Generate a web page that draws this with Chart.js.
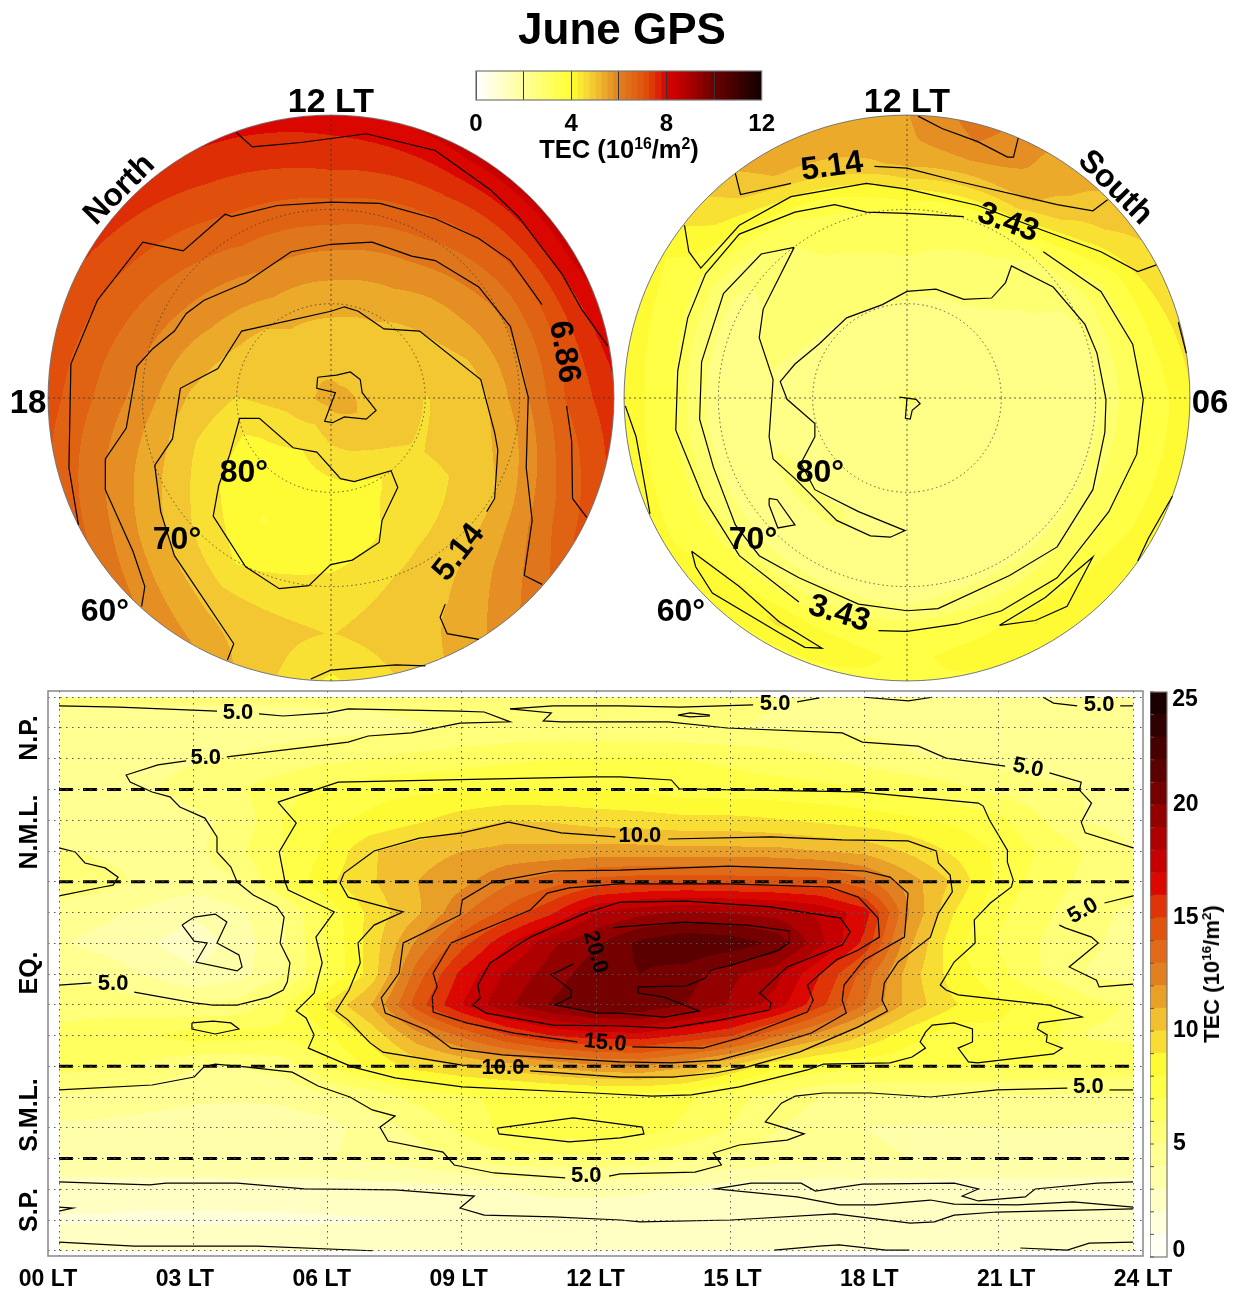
<!DOCTYPE html>
<html>
<head>
<meta charset="utf-8">
<title>June GPS</title>
<script src="https://cdn.jsdelivr.net/npm/chart.js@4"></script>
<style>
body { margin: 0; background: #fff; }
#page { position: relative; width: 1243px; height: 1291px; overflow: hidden; font-family: "Liberation Sans", Arial, sans-serif; font-weight: bold; color: #000; }
#page canvas { position: absolute; }
.t { position: absolute; white-space: nowrap; transform: translate(-50%, -50%); line-height: 1; }
.t sup { font-size: 62%; line-height: 0; }
</style>
</head>
<body>
<div id="page">
  <canvas id="north" width="570" height="570" style="left:46px;top:113px"></canvas>
  <canvas id="south" width="570" height="570" style="left:622px;top:113px"></canvas>
  <canvas id="topBar" width="329" height="75" style="left:456px;top:65px"></canvas>
  <canvas id="map" width="1180" height="606" style="left:8px;top:685px"></canvas>
  <canvas id="sideBar" width="64" height="621" style="left:1150px;top:670px"></canvas>
  <div class="t" style="left:622px;top:29px;font-size:44px">June GPS</div>
  <div class="t" style="left:331px;top:100px;font-size:34px">12 LT</div>
  <div class="t" style="left:907px;top:100px;font-size:34px">12 LT</div>
  <div class="t" style="left:28px;top:401px;font-size:33px">18</div>
  <div class="t" style="left:1210px;top:401px;font-size:33px">06</div>
  <div class="t" style="left:619px;top:150px;font-size:25.5px">TEC (10<sup>16</sup>/m<sup>2</sup>)</div>
  <div class="t" style="left:1212px;top:974px;font-size:22px;transform:translate(-50%,-50%) rotate(-90deg)">TEC (10<sup>16</sup>/m<sup>2</sup>)</div>
  <div class="t" style="left:28px;top:738px;font-size:25px;transform:translate(-50%,-50%) rotate(-90deg)">N.P.</div>
  <div class="t" style="left:28px;top:832px;font-size:25px;transform:translate(-50%,-50%) rotate(-90deg)">N.M.L.</div>
  <div class="t" style="left:28px;top:973px;font-size:25px;transform:translate(-50%,-50%) rotate(-90deg)">EQ.</div>
  <div class="t" style="left:28px;top:1115px;font-size:25px;transform:translate(-50%,-50%) rotate(-90deg)">S.M.L.</div>
  <div class="t" style="left:28px;top:1210px;font-size:25px;transform:translate(-50%,-50%) rotate(-90deg)">S.P.</div>
  <div class="t" style="left:1185px;top:698px;font-size:23px">25</div>
  <div class="t" style="left:1179px;top:1249px;font-size:23px">0</div>
</div>
<script>
// ---- colour ramp shared by all panels
const rampPos = [0, 0.167, 0.333, 0.40, 0.5, 0.6, 0.667, 0.75, 0.833, 1];
const rampRgb = [[255,255,255],[255,255,154],[255,255,51],[245,207,51],[224,128,32],[224,74,10],[217,0,0],[168,0,0],[106,0,0],[16,0,0]];

// ---- bottom panel: TEC on local time x latitude
const mapLT = [0,1,2,3,4,5,6,7,8,9,10,11,12,13,14,15,16,17,18,19,20,21,22,23,24];
const mapLat = [90,80,70,60,50,40,30,20,10,0,-10,-20,-30,-40,-50,-60,-70,-80,-90];
const mapTec = [
[5.2,5.2,5.2,5.2,5.2,5.2,5.2,5.2,5.2,5.2,5.2,5.2,5.2,5.2,5.2,5.2,5,4.95,4.9,4.95,5,5,4.95,5,5],
[4.6,4.5,4.5,4.5,4.5,4.55,4.65,4.75,4.95,5.1,5.2,5.2,5.2,5.15,5.05,5,4.95,4.9,4.8,4.7,4.6,4.5,4.5,4.6,4.7],
[4.7,4.6,4.7,4.9,5.1,5.4,5.7,6,6.3,6.5,6.8,7,7.1,7.1,7,6.8,6.5,6.1,5.6,5.1,4.85,4.65,4.4,4.5,4.6],
[4.5,4.6,4.9,5.4,5.9,6.6,7.4,7.7,7.8,7.9,8,8,8,7.8,7.5,7.45,7.4,7.3,7.1,6.8,6.3,5.7,5.3,4.95,4.7],
[4.2,4.2,4.3,4.7,5.3,7,7.8,8.2,8.8,9.5,10,9.9,9.6,9.5,9.3,9.3,9.1,8.8,8.5,8.2,7.8,7.3,6,4.9,4.6],
[5.1,4.8,4.6,4.7,5.8,7,8.2,9.9,10.6,11,11.3,11.3,11.4,11.4,11.3,11.3,11.3,11,10.7,9.8,8.8,7.8,6.8,5.9,5],
[5.8,5.4,4.7,4.5,4.9,7,8.8,9.9,11,11.7,12.8,13.6,14.4,14.7,14.8,14.7,14.6,14.5,13.3,11.5,9.8,7.7,6.5,5.7,5.4],
[4.4,4.2,3.8,3.2,3.8,4.9,7.3,9.4,10.8,12.8,14.3,15.8,18,18.7,19.1,18.9,18.6,17.8,16.5,12,9,7.2,6.2,5.3,4.8],
[4.1,3.7,3.1,2.4,3.4,4.9,7.1,9.5,12.2,14.6,16.8,18.8,19.9,21.3,22,21.7,20.8,18.3,15.7,11.2,8.3,6.9,5.9,5.2,4.6],
[4.7,4.5,3.9,3.2,3.6,4.9,7,9.5,13.5,16.3,18.2,19.5,20.6,21,20.5,19.2,18.4,16,13.6,10.5,8.5,7.3,5.9,4.9,4.6],
[5.7,5.6,5.3,5,5.3,6.8,9.2,11.1,14.5,17,18.8,20.1,21,21,20,18.9,17.6,15.3,13,10.6,9.1,8.2,7.6,6.3,5.9],
[6.2,6.5,6.9,7.5,7.4,7.2,7.8,9.4,11.6,13.2,14.9,16,16.5,16.6,15.9,15.1,13.2,11.6,9.9,8.4,7.3,7.8,7.6,5.9,5.8],
[6.4,6.1,5.8,5.1,5,5.4,7,8.2,9.4,10,10.5,11.2,11.8,12,11.2,9.9,8.3,7.5,7.3,7.2,7.1,7,6.9,6.7,6.6],
[4.8,4.7,4.4,4.2,4.1,4.2,4.7,5.4,6.3,6.9,7.2,7.3,7.4,7.4,7.2,6.3,5.7,5,4.9,4.85,4.9,4.9,4.85,4.8,4.8],
[3.8,3.7,3.6,3.4,3.4,3.5,3.6,4.6,5.2,6.2,7.4,7.6,7.7,7.5,6.8,6,5.1,4.4,4,3.9,3.9,4,4,3.9,3.8],
[3.9,3.9,4,4,4,4,4,4.2,4.6,5.2,5.6,5.7,5.8,5.6,5.2,4.8,4.4,4.2,4.1,4,4,3.9,3.9,3.9,3.9],
[2.4,2.4,2.35,2.35,2.4,2.45,2.5,2.55,2.6,2.7,3,3.2,3.2,3.1,2.9,2.45,2.4,2.4,2.4,2.4,2.4,2.55,2.5,2.4,2.4],
[1.9,1.9,1.85,1.85,1.85,1.85,1.9,1.95,2,2.2,2.35,2.45,2.5,2.5,2.5,2.5,2.4,2.35,2.45,2.52,2.35,2.3,2.3,2.3,2.3],
[2.7,2.7,2.7,2.7,2.7,2.7,2.65,2.5,2.45,2.45,2.45,2.45,2.45,2.45,2.45,2.45,2.45,2.55,2.55,2.5,2.45,2.45,2.55,2.7,2.7]
];
const regionBounds = [60, 30, -30, -60];
const ltTicks = ['00 LT','03 LT','06 LT','09 LT','12 LT','15 LT','18 LT','21 LT','24 LT'];

// contour lines as [local time, latitude], split where a label sits
const map25 = [
[[2.75,15.9],[3.02,18.5],[3.49,19.5],[3.75,16.9],[3.53,10.1],[4.02,6.2],[4.09,2.3],[3.98,1],[3.06,3.9],[3.31,10.1],[3.02,10.7],[2.75,15.9]],
[[0,-67.6],[0.8,-68],[2.03,-68.6],[2.39,-68],[3.98,-68],[5.48,-69.9],[7.51,-70.2],[9.28,-72.2],[8.96,-76.1],[9.5,-78.4],[11.04,-79],[12.54,-80],[12.99,-80.6],[15.02,-80],[17.34,-78],[19.02,-81],[19.56,-80.6],[20,-78.4],[20.96,-77.4],[24,-76.4]],
[[0,-75.8],[0.31,-76.1],[0,-77.1]],
[[0,-87.2],[1.68,-88.5],[4.43,-88.5],[7,-90]],
[[15.98,-89.8],[16.99,-88.5],[17.43,-88.1],[18.48,-89.8],[19,-89.8]],
[[21.48,-89.1],[22.53,-89.8],[23.02,-87.5],[24,-87.2]],
[[24,-67.6],[23.2,-68],[21.81,-69.9],[21.59,-72.5],[20.54,-73.8],[20.18,-72.2],[20.54,-69.9],[20,-68],[17.95,-68.3],[16.9,-70.6],[16.58,-68],[15.47,-68],[14.66,-69.9],[16.49,-72.5],[17.43,-75.1],[18.22,-75.1],[19.47,-73.5],[20,-74.8],[21.41,-75.1],[22.66,-74.1],[24,-75.8]]
];
const map5 = [
[[0,87.2],[1.34,86.8],[3.53,85.5]],
[[4.47,84.6],[5.01,83.9],[6.01,84.9],[6.46,86.2],[8.92,85.5],[9.5,85.2],[10.08,82],[8.96,81.6],[7.87,78.4],[6.91,77.4],[6.46,75.4],[5.74,74.1],[3.75,70.6]],
[[2.84,69.3],[2.21,68],[1.5,64.7],[1.59,62.4],[2.08,59.2],[2.48,57.6],[2.7,54.3],[3.26,50.7],[3.53,44.6],[3.53,39.7],[3.84,34.8],[3.98,29.9],[4.34,25.7],[4.87,21.8],[5.03,18.5],[4.94,10.1],[5.16,3.6],[5.1,-2.6],[5.01,-5.2],[4.69,-7.5],[3.98,-10.1],[3.44,-10.1],[3.02,-9.4],[1.68,-5.9]],
[[0.72,-2.9],[0,-3.6]],
[[10.08,86.2],[11.04,87.2],[12.54,87.2],[13.88,86.8],[15.51,87.5]],
[[10.08,86.2],[11,84.9],[10.82,82.3],[11.22,82],[12.54,82],[13.61,82],[14.93,80],[17.5,78.4],[17.95,75.4],[19.2,74.1],[19.82,70.2],[21.14,67.6]],
[[22.13,65.4],[22.84,62.4],[22.8,59.8],[23.07,55.6],[22.84,49.4],[22.93,45.9],[24,41]],
[[16.49,88.5],[16.99,89.8]],
[[17.99,90],[18.98,88.8],[19.51,90]],
[[21.99,90],[22.22,88.1],[22.75,87.2]],
[[23.71,87.2],[24,87.2]],
[[13.83,84.2],[14.1,84.9],[14.53,84.2],[14.53,83.9],[14.1,83.6],[13.83,84.2]],
[[0,41],[0.36,39.7],[0.58,36.1],[1.03,34.5],[1.32,31.5],[1.21,28.9],[0.98,28.3],[0,25.4]],
[[23.36,23.1],[24,25.4]],
[[22.35,15.9],[22.48,15],[23.07,12],[23.22,10.1],[22.57,2.3],[23.18,-2],[23.24,-4.2],[24,-3.3]],
[[0,-37.7],[2.08,-36.1],[3.02,-33.5],[3.24,-30.2],[3.49,-29.3],[4.16,-30.2],[5.21,-31.9],[5.79,-36.4],[6.5,-40],[7,-44.2],[7.51,-46.2],[7.17,-49.8],[7.35,-54.3],[8.58,-57.9],[8.83,-62.1],[9.72,-64.7],[11.31,-66.3]],
[[12.29,-65.7],[12.54,-65],[14.21,-64.4],[14.8,-62.1],[14.62,-58.2],[15.2,-55.6],[16.27,-54],[16.65,-52],[15.78,-48.1],[16.14,-42],[16.45,-39.7],[17.08,-38.7],[18.13,-38.7],[19.47,-40],[20.96,-37.7],[22.53,-37.1]],
[[23.47,-37.7],[24,-37.7]]
];
const map75 = [
[[4.89,55.9],[6.24,62.4],[11.93,64.1],[12.54,64.1],[13.68,63.1],[13.86,60.2],[17.86,59.2],[20.54,55.6],[20.65,54.6],[20.79,50.1],[21.19,40.3],[21.19,36.4],[21.32,30.6],[21.28,28.3],[20.81,23.1],[20.45,17.6],[20.47,10.1],[20,3.9],[19.69,-3.6],[19.82,-5.2],[20.09,-6.8],[22.13,-10.1],[22.86,-14],[21.9,-15.9],[21.86,-17.9],[22.08,-19.8],[22.06,-22.1],[22.42,-24.1],[22.22,-26],[20.52,-28.9],[20.32,-28.6],[20.09,-24.1],[20.41,-22.1],[20.41,-17.9],[20,-15.9],[19.51,-16.6],[19.36,-18.9],[19.24,-22.1],[19.36,-24.1],[19.06,-27],[18.57,-28.9],[17.08,-29.3],[16.72,-31.2],[15.2,-36.7],[14.13,-39.3],[13.25,-39.7],[11.93,-38.7],[9.01,-36.7],[7.51,-33.8],[6.55,-30.2],[5.57,-24.1],[5.7,-19.8],[5.52,-14.3],[5.3,-12],[5.7,-6.2],[5.88,3.6],[5.74,12],[6.15,20.2],[5.92,21.8],[5.12,27.3],[5.05,29.9],[4.92,39.7],[5.3,49.1],[4.89,55.9]],
[[2.97,-15.9],[2.97,-17.9],[3.49,-19.5],[4.02,-17.9],[3.84,-15.9],[3.44,-15.3],[2.97,-15.9]],
[[9.79,-50.1],[9.83,-52],[11.4,-54.6],[12.54,-53.3],[13.07,-52],[13.03,-49.8],[12.54,-48.8],[11.49,-46.8],[9.79,-50.1]]
];
const map10 = [
[[13.61,43.9],[15.91,44.6],[17.5,43.6],[18.97,43.3],[19.6,40],[19.65,36.1],[19.91,32.2],[19.96,26.7],[19.65,19.8],[19.47,12],[18.75,3.9],[18.44,-2.9],[18.39,-8.5],[18.51,-12],[17.86,-17.2],[16.54,-25.4],[15.38,-30.2],[14.66,-32.2],[13.7,-33.5],[12.54,-33.5],[10.53,-31.5]],
[[9.45,-29.9],[9.01,-29.6],[7.24,-25.4],[6.95,-22.4],[6.46,-15],[6.19,-12],[6.48,-5.2],[6.73,3.6],[6.68,10.1],[7.04,15.9],[7.69,20.2],[6.46,25],[6.28,29.6],[6.37,32.8],[7.04,40],[8.05,44.2],[9.01,45.9],[10.04,49.4],[11.22,45.9],[12.43,44.6]]
];
const map125 = [
[[12.54,33.8],[11.04,33.5],[9.68,29.9],[9.01,24.1],[8.96,19.2],[7.69,10.1],[7.6,0.3],[7.33,-5.2],[7.2,-7.8],[7.29,-12.7],[8.22,-18.2],[8.76,-24.1],[9.9,-26.3],[12.54,-28.6],[13.7,-28.9],[14.75,-28],[15.73,-24.1],[16.81,-19.2],[17.59,-12.7],[17.5,-8.5],[17.54,-3.6],[17.99,4.6],[18.89,12],[18.97,26.3],[18.57,31.5],[17.99,33.5],[14.97,35.1],[12.54,33.8]]
];
const map15 = [
[[12.81,-23.7],[14.39,-24.1],[15.2,-20.8],[16.72,-12.4],[16.85,-8.5],[16.72,-3.6],[17.37,4.6],[17.86,7.8],[18.33,12],[18.3,18.2],[17.86,25],[17.21,28.3],[14.97,29.3],[12.54,29.3],[11.4,28],[10.91,26.3],[10.53,20.8],[8.76,10.1],[8.36,0.3],[8.45,-4.2],[8.34,-7.5],[8.36,-12.4],[9.1,-15.9],[10.17,-19.2],[11.58,-22.1]]
];
const map175 = [
[[12.54,23.4],[11.76,19.8],[10.53,12],[9.63,3.6],[9.36,-3.6],[9.41,-7.8],[9.25,-10.1],[9.54,-12.7],[11.04,-16.6],[12.54,-16.9],[13.61,-17.6],[14.75,-15],[15.87,-11.7],[15.91,-9.4],[15.65,-6.2],[16.27,2.3],[17.5,9.4],[17.68,13.7],[17.46,18.2],[15.91,21.8],[14.01,23.7],[12.54,23.4]]
];
const map20 = [
[[12.38,15],[12.54,15.3],[13.97,16.9],[15.38,15.9],[16.32,14],[16.32,10.4],[16.09,7.8],[15.02,2.9],[14.57,1.3],[14.44,-1.3],[14.01,-3.9],[12.94,-4.2],[12.94,-6.2],[13.52,-7.5],[14.3,-12],[13.52,-14],[12.54,-12.7],[12.02,-12.7],[11.09,-10.1],[11.44,-7.5],[11.44,-5.2],[11,-0.3],[11.49,3.3]]
];
const mapLabels = [
['5.0',4.0,84.9,0],['5.0',3.28,70.2,0],['5.0',16.0,87.8,0],['5.0',23.24,87.5,0],['5.0',21.65,67.0,12],
['10.0',12.98,44.9,0],['5.0',22.88,20.5,-30],['20.0',11.98,7.15,75],['5.0',1.21,-3.25,0],
['15.0',12.2,-22.4,5],['10.0',9.92,-30.6,0],['5.0',23.0,-36.7,0],['5.0',11.78,-65.7,0]
];

// ---- polar panels: TEC per local time column, from the pole outwards
const northLT = [0,2,4,6,8,10,12,14,16,18,20,22];
const northColat = [0,5,10,15,20,25,30];
const northTec = [
[5.3,4.7,4.1,3.9,4.45,4.7,4.2],
[5.3,4.9,4.25,4.45,4.85,5.15,5.4],
[5.3,5.05,4.7,4.75,5.1,6.1,6.9],
[5.3,5,4.7,4.85,5.8,6.9,7.6],
[5.3,4.9,4.9,5.4,6.05,7.05,8.3],
[5.3,4.8,5.2,5.75,6.5,7.35,8.3],
[5.3,4.9,5.25,5.9,6.7,7.4,7.95],
[5.3,4.9,5.25,5.95,6.6,7.15,7.7],
[5.3,4.8,5,5.6,6.2,6.75,7.3],
[5.3,4.85,4.7,5.1,5.8,6.4,7.05],
[5.3,4.6,4.15,4.45,5.05,5.7,6.45],
[5.3,4.4,3.9,3.85,4.25,5,5.6]
];
const southLT = [0,2,4,6,8,10,11,12,14,16,18,20,22];
const southColat = [0,5,10,15,20,22.5,25,27.5,30];
const southTec = [
[2.6,2.45,2.45,2.45,2.45,2.6,3.55,3.75,3.8],
[2.6,2.45,2.45,2.45,2.45,2.9,3.55,4.3,3.9],
[2.6,2.45,2.45,2.45,2.5,3.1,3.5,3.85,4.3],
[2.6,2.45,2.45,2.45,2.5,3,3.45,3.8,4.25],
[2.6,2.45,2.45,2.5,2.6,3.15,3.6,4.29,4.6],
[2.6,2.45,2.5,2.75,3.3,4.45,5.35,5.5,5.55],
[2.6,2.45,2.5,2.85,3.4,4.45,5.3,5.95,6.2],
[2.6,2.45,2.55,3,3.5,4.45,5.3,5.5,5.55],
[2.6,2.45,2.55,2.85,3.15,3.5,4.45,5.2,5.5],
[2.6,2.45,2.5,2.7,2.45,2.7,3.35,3.7,3.9],
[2.6,2.45,2.45,2.5,2.4,2.75,3.5,3.8,4.3],
[2.6,2.45,2.5,2.6,2.4,2.75,3.4,3.7,3.95],
[2.6,2.45,2.5,2.6,2.4,2.7,3.6,4.35,3.8]
];
// polar contours as [x, y] in degrees from the pole, noon up
const northLines = [
[[-10.02,28.12],[-8.34,26.62],[-3.19,27.09],[3.73,28.02],[11.06,26.25],[16.93,22.05],[19.87,19.24],[24.48,13.17],[26.57,9.43],[29.38,5.46]],
[[-26.78,-13.45],[-27.79,-7.38],[-27.58,3.6],[-24.77,10.37],[-19.95,16.53],[-15.67,15.6],[-11.23,19.48],[-10.52,19.24],[-5.7,20.41],[0,20.78],[5.2,20.64],[11.06,19.01],[15.67,16.91],[19.03,14.57],[22.38,9.9]],
[[24.98,-0.84],[25.52,-4.58],[25.61,-10.65],[27.12,-12.66]],
[[-20.08,-22.09],[-19.74,-19.99],[-21,-16.25],[-23.93,-9.72],[-23.93,-6.45],[-21.71,-3.18],[-20.58,3.36],[-18.9,5.23],[-16.6,7.1],[-15.34,8.97],[-13.45,10.37],[-9.05,12.24],[-4.23,15.51],[0,16.3],[4.36,16.53],[8.55,15.04],[11.06,14.57],[15.67,11.77],[19.03,7.57],[20.91,0.09],[20.7,-7.38],[21.33,-12.98],[20.49,-18.82],[22.38,-19.76]],
[[-10.98,-27.79],[-10.31,-26.06],[-16.6,-16.72],[-18.06,-12.05],[-18.69,-7.15],[-16.81,-4.34],[-15.97,1.03],[-11.99,3.13],[-9.47,7.1],[0,9.2],[1.42,9.67],[2.89,9.2],[5.62,7.33],[9.39,7.1],[15.88,1.96],[17.35,-3.64],[17.69,-5.51],[17.35,-10.65],[16.51,-12.05]],
[[12.11,-21.86],[11.57,-23.26],[12.32,-24.99],[15.67,-25.6]],
[[-9.68,-2.15],[-7.59,-2.15],[-4.02,-5.28],[-1.51,-5.74],[1.01,-8.55],[2.47,-8.87],[6.37,-7.71],[7.08,-9.48],[5.41,-12.98],[5.11,-15.32],[2.26,-17.19],[-0.04,-17.66],[-2.35,-19.9],[-5.49,-20.22],[-9.05,-17.89],[-12.49,-12.52],[-11.9,-9.25],[-10.73,-5.98],[-9.68,-2.15]],
[[-1.42,2.2],[0.59,2.43],[2.05,2.76],[3.1,1.96],[3.31,0.56],[4.78,-1.31],[3.73,-2.24],[1.42,-2.01],[0.17,-2.62],[-0.67,-2.48],[0.46,0.56],[-1.51,1.03],[-1.42,2.2]],
[[-2.14,-29.8],[-0.04,-28.86],[6.87,-28.3],[10.02,-28.4]]
];
const southLines = [
[[1.18,29.89],[3.71,28.58],[7.5,27.18],[10.66,25.55],[11.29,25.55],[11.79,27.56]],
[[-18.2,23.82],[-17.65,21.58],[-12.3,22.75]],
[[-3.45,24.57],[0,24.38],[5.39,22.98],[15.92,20.5],[19.71,19.85],[21.27,21.02]],
[[-23.59,18.31],[-23.13,15.51],[-21.86,13.78],[-17.78,18.31],[-12.3,21.35],[-4.3,22.75],[0,22.14],[7.5,20.41],[14.24,17.84],[20.56,15.51],[24.47,13.4],[26.45,14.11]],
[[14.45,15.51],[20.56,11.3],[23.93,5.7],[25.06,-0.14],[24.35,-5.98],[21.4,-12.05],[15.92,-19.06],[10.03,-22.56],[5.39,-23.96],[0,-24.75],[-3.03,-24.66]],
[[-11.46,-21.63],[-17.78,-16.72],[-21.57,-10.65],[-24.52,-3.41],[-24.31,2.9],[-23.25,8.5],[-21.36,13.17],[-17.78,17.38],[-11.88,19.71],[-7.67,20.5],[-4.3,19.71],[0,19.57],[6.02,19.24]],
[[-11.96,15.97],[-15.46,15.27],[-19.46,11.07],[-21.78,3.83],[-21.99,-2.24],[-20.51,-7.38],[-18.2,-13.45],[-15.67,-16.72],[-11.46,-19.06],[-5.14,-21.86],[0,-22.56],[3.29,-22.33],[10.87,-18.82],[15.92,-15.79],[19.71,-9.72],[20.98,-3.64],[21.1,-0.14],[20.14,4.76],[18.87,7.8],[15.5,11.77],[11.08,14.01],[10.45,12.24],[8.97,10.6],[6.02,10.46],[3.07,11.54],[0,11.3],[-2.61,9.9],[-6.4,8.5],[-9.35,5.7],[-11.88,3.6],[-13.44,1.73],[-12.72,-0.14],[-9.77,-2.71],[-9.77,-4.11],[-11.25,-6.91],[-9.77,-9.72],[-5.14,-12.05],[-0.21,-14.06],[-1.77,-14.76],[-3.88,-14.62],[-7.46,-12.98],[-11.88,-8.55],[-14.2,-6.45],[-14.62,-4.11],[-14.2,1.96],[-15.67,6.4],[-15.25,9.43],[-11.96,15.97]],
[[-14.62,-10.65],[-13.77,-10.79],[-11.88,-13.45],[-13.69,-13.78],[-14.62,-11.35],[-14.62,-10.65]],
[[-22.83,-16.25],[-17.78,-19.99],[-13.56,-23.73],[-9.01,-26.53],[-10.83,-26.44],[-13.56,-24.9],[-20.64,-20.69],[-22.41,-17.89],[-22.83,-16.25]],
[[9.81,-24.1],[13.61,-23.59],[16.98,-22.09],[19.71,-16.86],[14.66,-21.16],[9.81,-24.1]],
[[-29.87,-0.84],[-28.73,-4.11],[-27.25,-12.28]],
[[28.77,8.03],[29.61,4.76]],
[[28.14,-10.42],[25.61,-14.85],[24.47,-17.28]],
[[-0.8,0.09],[0.97,-0.14],[1.39,-0.61],[0.55,-1.31],[0.34,-2.24],[-0.17,-2.15],[0,0]]
];
const northLabels = [
['6.86',24.7,4.88,80,32],['5.14',13.57,-16.4,-52,32],['80°',-9.23,-7.95,0,32],['70°',-16.33,-15.06,0,32],['60°',-23.97,-22.7,0,32],['North',-22.4,22.06,-45,32]
];
const southLabels = [
['5.14',-7.95,24.5,-8,32],['3.43',10.71,18.56,20,32],['3.43',-7.21,-22.9,17,32],['80°',-9.23,-7.95,0,32],['70°',-16.33,-15.06,0,32],['60°',-23.97,-22.7,0,32],['South',22.06,22.3,45,32]
];
const polarCircles = [10, 20];

const topBarMax = 12, sideBarMax = 25;
const polarBands = 28, mapBands = 25, topBarBands = 48;

Chart.defaults.font.family = '"Liberation Sans", Arial, sans-serif';
Chart.defaults.font.weight = 'bold';
Chart.defaults.color = '#000';

function rampColor(f) {
    let i = 0;
    while (i < rampPos.length - 2 && f > rampPos[i + 1]) i++;
    const t = (f - rampPos[i]) / (rampPos[i + 1] - rampPos[i]);
    const c = rampRgb[i].map((v, k) => Math.round(v + (rampRgb[i + 1][k] - v) * t));
    return `rgb(${c[0]},${c[1]},${c[2]})`;
}
function makeBands(n) {
    const out = [];
    for (let k = 0; k < n; k++) out.push(rampColor((k + 0.5) / n));
    return out;
}

function lineSet(points, extra) {
    return Object.assign({
        data: points.map(p => ({ x: p[0], y: p[1] })),
        showLine: true, borderColor: '#000', borderWidth: 1.2,
        pointRadius: 0, tension: 0, fill: false
    }, extra);
}

// fills the plot area band by band, one pixel row at a time
function paintField(chart, sample, maxV, colors) {
    const ctx = chart.ctx, a = chart.chartArea, xs = chart.scales.x, ys = chart.scales.y;
    const n = colors.length;
    for (let py = Math.floor(a.top); py < a.bottom; py++) {
        const lat = ys.getValueForPixel(py + 0.5);
        let start = 0, band = -1;
        for (let px = Math.floor(a.left); px <= a.right; px++) {
            const v = px < a.right ? sample(xs.getValueForPixel(px + 0.5), lat) : null;
            const k = v === null ? -1 : Math.max(0, Math.min(n - 1, Math.floor(v / maxV * n)));
            if (k !== band) {
                if (band >= 0) { ctx.fillStyle = colors[band]; ctx.fillRect(start, py, px - start, 1); }
                band = k; start = px;
            }
        }
    }
}

function sampleMap(lt, lat) {
    if (lt < 0 || lt > 24 || lat > 90 || lat < -90) return null;
    const fx = Math.min(lt, 23.999), fy = Math.min((90 - lat) / 10, 17.999);
    const i = Math.floor(fx), j = Math.floor(fy), u = fx - i, w = fy - j;
    return (mapTec[j][i] * (1 - u) + mapTec[j][i + 1] * u) * (1 - w)
        + (mapTec[j + 1][i] * (1 - u) + mapTec[j + 1][i + 1] * u) * w;
}

function samplePolar(field, cols, colats) {
    return function (x, y) {
        const r = Math.hypot(x, y);
        if (r > 30) return null;
        let lt = 12 - Math.atan2(x, y) * 12 / Math.PI;
        lt = (lt + 24) % 24;
        let i = cols.length - 1;
        while (i > 0 && cols[i] > lt) i--;
        const n = (i + 1) % cols.length;
        const u = (lt - cols[i]) / ((n === 0 ? 24 : cols[n]) - cols[i]);
        let j = 0;
        while (j < colats.length - 2 && r > colats[j + 1]) j++;
        const w = (r - colats[j]) / (colats[j + 1] - colats[j]);
        return (field[i][j] * (1 - u) + field[n][j] * u) * (1 - w)
            + (field[i][j + 1] * (1 - u) + field[n][j + 1] * u) * w;
    };
}

function drawLabels(chart, labels, size) {
    const ctx = chart.ctx;
    ctx.save();
    ctx.fillStyle = '#000';
    ctx.textAlign = 'center';
    ctx.textBaseline = 'middle';
    labels.forEach(l => {
        ctx.save();
        ctx.translate(chart.scales.x.getPixelForValue(l[1]), chart.scales.y.getPixelForValue(l[2]));
        ctx.rotate(l[3] * Math.PI / 180);
        ctx.font = `bold ${l[4] || size}px "Liberation Sans"`;
        ctx.fillText(l[0], 0, 0);
        ctx.restore();
    });
    ctx.restore();
}

function polarChart(id, field, cols, colats, lines, labels) {
    const crossStyle = { borderWidth: 0.8, borderColor: '#333', borderDash: [2, 3] };
    const datasets = lines.map(l => lineSet(l));
    datasets.push(lineSet([[-30, 0], [30, 0]], crossStyle));
    datasets.push(lineSet([[0, -30], [0, 30]], crossStyle));
    const sample = samplePolar(field, cols, colats);
    const colors = makeBands(polarBands);
    new Chart(document.getElementById(id), {
        type: 'scatter',
        data: { datasets: datasets },
        options: {
            responsive: false, animation: false, events: [],
            plugins: { legend: { display: false }, tooltip: { enabled: false } },
            scales: {
                x: { display: false, min: -30.22, max: 30.22 },
                y: { display: false, min: -30.22, max: 30.22 }
            }
        },
        plugins: [{
            id: 'polarField',
            beforeDatasetsDraw(chart) {
                paintField(chart, sample, topBarMax, colors);
                const ctx = chart.ctx, xs = chart.scales.x, ys = chart.scales.y;
                const cx = xs.getPixelForValue(0), cy = ys.getPixelForValue(0);
                ctx.save();
                ctx.strokeStyle = '#333';
                ctx.lineWidth = 0.8;
                ctx.setLineDash([1.5, 3]);
                polarCircles.forEach(c => {
                    ctx.beginPath();
                    ctx.arc(cx, cy, xs.getPixelForValue(c) - cx, 0, Math.PI * 2);
                    ctx.stroke();
                });
                ctx.setLineDash([]);
                ctx.strokeStyle = '#777';
                ctx.lineWidth = 1;
                ctx.beginPath();
                ctx.arc(cx, cy, xs.getPixelForValue(30) - cx, 0, Math.PI * 2);
                ctx.stroke();
                ctx.restore();
            },
            afterDatasetsDraw(chart) { drawLabels(chart, labels, 32); }
        }]
    });
}

polarChart('north', northTec, northLT, northColat, northLines, northLabels);
polarChart('south', southTec, southLT, southColat, southLines, southLabels);

// ---- bottom panel
const mapSets = [];
regionBounds.forEach(b => mapSets.push(lineSet([[mapLT[0], b], [mapLT[24], b]], { borderWidth: 3, borderDash: [14, 10] })));
[map25, map5, map75, map10, map125, map15, map175, map20].forEach(group => {
    group.forEach(l => mapSets.push(lineSet(l)));
});
const mapColors = makeBands(mapBands);

new Chart(document.getElementById('map'), {
    type: 'scatter',
    data: { datasets: mapSets },
    options: {
        responsive: false, animation: false, events: [],
        layout: { padding: { left: 40, right: 45, top: 6, bottom: 0 } },
        plugins: { legend: { display: false }, tooltip: { enabled: false } },
        scales: {
            x: {
                position: 'bottom', min: -0.246, max: 24.22,
                ticks: { display: false, stepSize: 3, includeBounds: false },
                grid: { color: '#555', lineWidth: 1, drawTicks: false, z: 1 },
                border: { display: false, dash: [1.5, 4.5] },
                afterFit(s) { s.height = 0; }
            },
            xLabels: {
                axis: 'x', position: 'bottom', min: 0, max: 24,
                grid: { display: false, drawTicks: false }, border: { display: false },
                ticks: {
                    stepSize: 3, padding: 10, autoSkip: false, maxRotation: 0,
                    font: { size: 23, weight: 'bold' },
                    callback: v => ltTicks[v / 3]
                },
                afterFit(s) { s.height = 35; }
            },
            y: {
                position: 'left', min: -91.7, max: 92.03,
                ticks: { display: false, stepSize: 10, includeBounds: false },
                grid: { color: '#555', lineWidth: 1, drawTicks: false, z: 1 },
                border: { display: false, dash: [1.5, 4.5] },
                afterFit(s) { s.width = 0; }
            }
        }
    },
    plugins: [{
        id: 'mapField',
        beforeDatasetsDraw(chart) { paintField(chart, sampleMap, sideBarMax, mapColors); },
        afterDraw(chart) {
            const a = chart.chartArea, ctx = chart.ctx;
            drawLabels(chart, mapLabels, 22);
            ctx.strokeStyle = '#888';
            ctx.lineWidth = 1.5;
            ctx.strokeRect(a.left, a.top, a.right - a.left, a.bottom - a.top);
        }
    }]
});

// ---- colour bars, built from stacked bars
function barSets(maxV, n) {
    return makeBands(n).map(c => ({
        data: [maxV / n], backgroundColor: c, borderWidth: 0, inflateAmount: 0.6,
        stack: 'bar', barPercentage: 1, categoryPercentage: 1
    }));
}
function frameArea(chart) {
    const a = chart.chartArea, ctx = chart.ctx;
    ctx.strokeStyle = '#777';
    ctx.lineWidth = 1.2;
    ctx.strokeRect(a.left, a.top, a.right - a.left, a.bottom - a.top);
}

new Chart(document.getElementById('topBar'), {
    type: 'bar',
    data: { labels: ['TEC'], datasets: barSets(topBarMax, topBarBands) },
    options: {
        indexAxis: 'y', responsive: false, animation: false, events: [],
        layout: { padding: { left: 20, right: 20, top: 6, bottom: 0 } },
        plugins: { legend: { display: false }, tooltip: { enabled: false } },
        scales: {
            x: {
                stacked: true, min: 0, max: topBarMax,
                grid: { color: '#333', lineWidth: 1, drawTicks: false, z: 1 },
                border: { display: false },
                ticks: {
                    stepSize: 2, padding: 10, autoSkip: false, maxRotation: 0,
                    font: { size: 24, weight: 'bold' },
                    callback: v => (v % 4 === 0 ? String(v) : '')
                },
                afterFit(s) { s.height = 40; }
            },
            y: { stacked: true, display: false }
        }
    },
    plugins: [{ id: 'topFrame', afterDraw: frameArea }]
});

new Chart(document.getElementById('sideBar'), {
    type: 'bar',
    data: { labels: ['TEC'], datasets: barSets(sideBarMax, mapBands) },
    options: {
        responsive: false, animation: false, events: [],
        layout: { padding: { left: 0, right: 0, top: 22, bottom: 34 } },
        plugins: { legend: { display: false }, tooltip: { enabled: false } },
        scales: {
            x: { stacked: true, display: false },
            y: {
                stacked: true, position: 'right', min: 0, max: sideBarMax,
                grid: { display: false, drawTicks: false }, border: { display: false },
                ticks: {
                    stepSize: 1, padding: 6, autoSkip: false,
                    font: { size: 23, weight: 'bold' },
                    callback: v => (v % 5 === 0 && v > 0 && v < sideBarMax ? String(v) : '')
                },
                afterFit(s) { s.width = 47; }
            }
        }
    },
    plugins: [{
        id: 'sideFrame',
        afterDraw(chart) {
            frameArea(chart);
            const a = chart.chartArea, ctx = chart.ctx, ys = chart.scales.y;
            ctx.strokeStyle = '#555';
            ctx.lineWidth = 1;
            ys.ticks.forEach(t => {
                const p = ys.getPixelForValue(t.value);
                ctx.beginPath();
                ctx.moveTo(a.left, p);
                ctx.lineTo(a.left + 4, p);
                ctx.stroke();
            });
        }
    }]
});
</script>
</body>
</html>
